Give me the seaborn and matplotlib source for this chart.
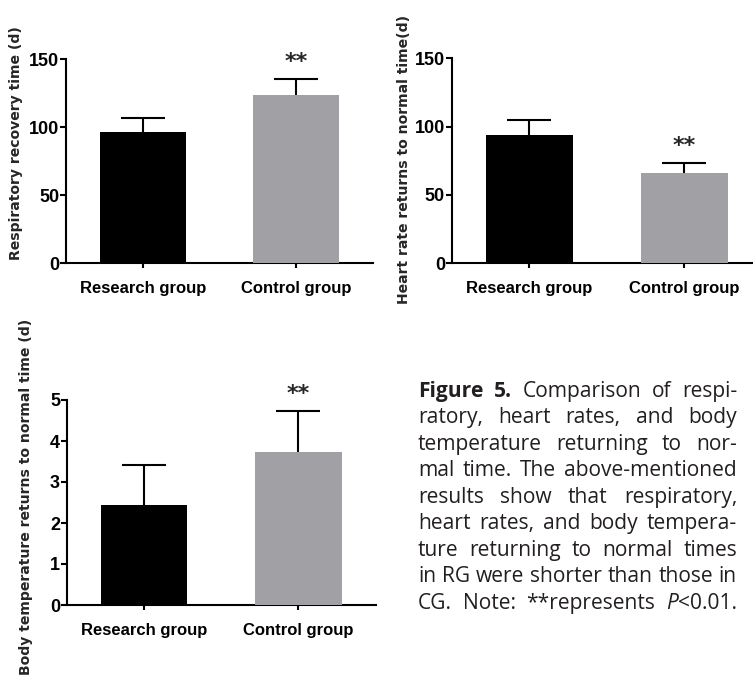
import matplotlib
matplotlib.use("Agg")
import matplotlib.pyplot as plt
import seaborn as sns
import pandas as pd
import numpy as np

# ---------------- data ----------------
groups = ["Research group", "Control group"]
bar_colors = ["#000000", "#a1a1a5"]

resp_mean = [96.3, 123.2]
resp_sd = [10.2, 12.2]

heart_mean = [93.8, 66.2]
heart_sd = [11.2, 7.5]

temp_mean = [2.44, 3.72]
temp_sd = [0.97, 1.02]

resp_ticks = [0, 50, 100, 150]
heart_ticks = [0, 50, 100, 150]
temp_ticks = [0, 1, 2, 3, 4, 5]

resp_label = "Respiratory recovery time (d)"
heart_label = "Heart rate returns to normal time(d)"
temp_label = "Body temperature returns to normal time (d)"

sig_marks = ["", "**"]

caption_lines = [
    "Figure 5. Comparison of respi-",
    "ratory, heart rates, and body",
    "temperature returning to nor-",
    "mal time. The above-mentioned",
    "results show that respiratory,",
    "heart rates, and body tempera-",
    "ture returning to normal times",
    "in RG were shorter than those in",
    "CG. Note: **represents P<0.01.",
]

# ---------------- style ----------------
sns.set_style("ticks")
plt.rcParams["font.family"] = ["Liberation Sans", "DejaVu Sans"]

W, H = 753, 677
fig = plt.figure(figsize=(W / 100, H / 100), dpi=100)


def px_axes(left, top, right, bottom):
    return fig.add_axes([left / W, 1 - bottom / H, (right - left) / W, (bottom - top) / H])


def draw_panel(ax, means, sds, ticks, label, label_xy):
    df = pd.DataFrame({"group": groups, "value": means})
    sns.barplot(data=df, x="group", y="value", hue="group", palette=bar_colors,
                order=groups, hue_order=groups, width=0.56, linewidth=0,
                legend=False, ax=ax)
    for p in ax.patches:
        p.set_zorder(3)
    x = np.arange(len(groups))
    eb = ax.errorbar(x, means, yerr=[np.zeros(len(sds)), sds], fmt="none",
                     ecolor="black", elinewidth=1.5, capsize=16, capthick=1.5, zorder=2)
    # keep only the upper caps
    for cl in eb[1]:
        if np.allclose(np.asarray(cl.get_ydata(), float), np.asarray(means, float)):
            cl.set_visible(False)
    ax.set_xlim(-0.5, 1.5)
    ax.set_ylim(ticks[0], ticks[-1])
    ax.set_yticks(ticks)
    ax.set_yticklabels([str(t) for t in ticks], fontsize=13, fontweight="bold")
    ax.set_xticks(x)
    ax.set_xticklabels(groups, fontsize=12, fontweight="bold")
    ax.set_xlabel("")
    ax.set_ylabel(label, fontsize=10.1, fontweight="bold", family="DejaVu Sans")
    ax.yaxis.label.set(ha="center", va="center", rotation_mode="default")
    ax.yaxis.set_label_coords(*label_xy)
    for s in ["top", "right"]:
        ax.spines[s].set_visible(False)
    for s in ["left", "bottom"]:
        ax.spines[s].set_linewidth(1.5)
        ax.spines[s].set_color("black")
        ax.spines[s].set_capstyle("projecting")
    ax.tick_params(axis="y", direction="out", length=4.3, width=1.5, pad=0.5, colors="black")
    ax.tick_params(axis="x", direction="out", length=3.6, width=1.5, pad=9, colors="black")
    ax.set_facecolor("none")
    for i, m in enumerate(sig_marks):
        if m:
            ax.annotate(m, xy=(i, means[i] + sds[i]), xytext=(0, 5),
                        textcoords="offset points", ha="center", va="bottom",
                        fontsize=16, fontweight="bold", family="DejaVu Sans")


ax1 = px_axes(66, 59, 373, 263)
draw_panel(ax1, resp_mean, resp_sd, resp_ticks, resp_label, (-0.163, 0.588))

ax2 = px_axes(451.7, 58.3, 761.7, 263.3)
draw_panel(ax2, heart_mean, heart_sd, heart_ticks, heart_label, (-0.154, 0.509))

ax3 = px_axes(66.7, 400, 375.7, 605)
draw_panel(ax3, temp_mean, temp_sd, temp_ticks, temp_label, (-0.132, 0.527))

# ---------------- caption (justified) ----------------
cap_left, cap_right = 418, 737
baseline0, line_step = 396.7, 26.5
cap_color = "#231f20"
cap_family = ["Open Sans", "DejaVu Sans"]


def runs_for(word, li):
    if li == 0 and word in ("Figure", "5."):
        return [(word, "bold", "normal")]
    if word.startswith("P<"):
        return [("P", "normal", "italic"), (word[1:], "normal", "normal")]
    return [(word, "normal", "normal")]


renderer = fig.canvas.get_renderer()


def measure(text, weight, style, size):
    t = fig.text(0, 0, text, fontsize=size, fontweight=weight, fontstyle=style,
                 family=cap_family)
    w = t.get_window_extent(renderer).width
    t.remove()
    return w


# choose a size so that the widest line naturally fits
base_size = 10.0
space_w = measure("a a", "normal", "normal", base_size) - measure("aa", "normal", "normal", base_size)
max_w = 0
for li, line in enumerate(caption_lines):
    words = line.split(" ")
    tot = sum(measure(r[0], r[1], r[2], base_size) for w in words for r in runs_for(w, li))
    tot += space_w * (len(words) - 1)
    max_w = max(max_w, tot)
cap_size = base_size * (cap_right - cap_left - 2) / max_w

for li, line in enumerate(caption_lines):
    words = line.split(" ")
    widths = []
    for w in words:
        widths.append([measure(r[0], r[1], r[2], cap_size) for r in runs_for(w, li)])
    total = sum(sum(ws) for ws in widths)
    gap = (cap_right - cap_left - total) / max(len(words) - 1, 1)
    x = cap_left
    yb = baseline0 + li * line_step
    for w, ws in zip(words, widths):
        xx = x
        for (txt, wt, st), rw in zip(runs_for(w, li), ws):
            fig.text(xx / W, 1 - yb / H, txt, fontsize=cap_size, fontweight=wt,
                     fontstyle=st, family=cap_family, color=cap_color,
                     ha="left", va="baseline")
            xx += rw
        x += sum(ws) + gap

fig.savefig("out.png", dpi=100)
